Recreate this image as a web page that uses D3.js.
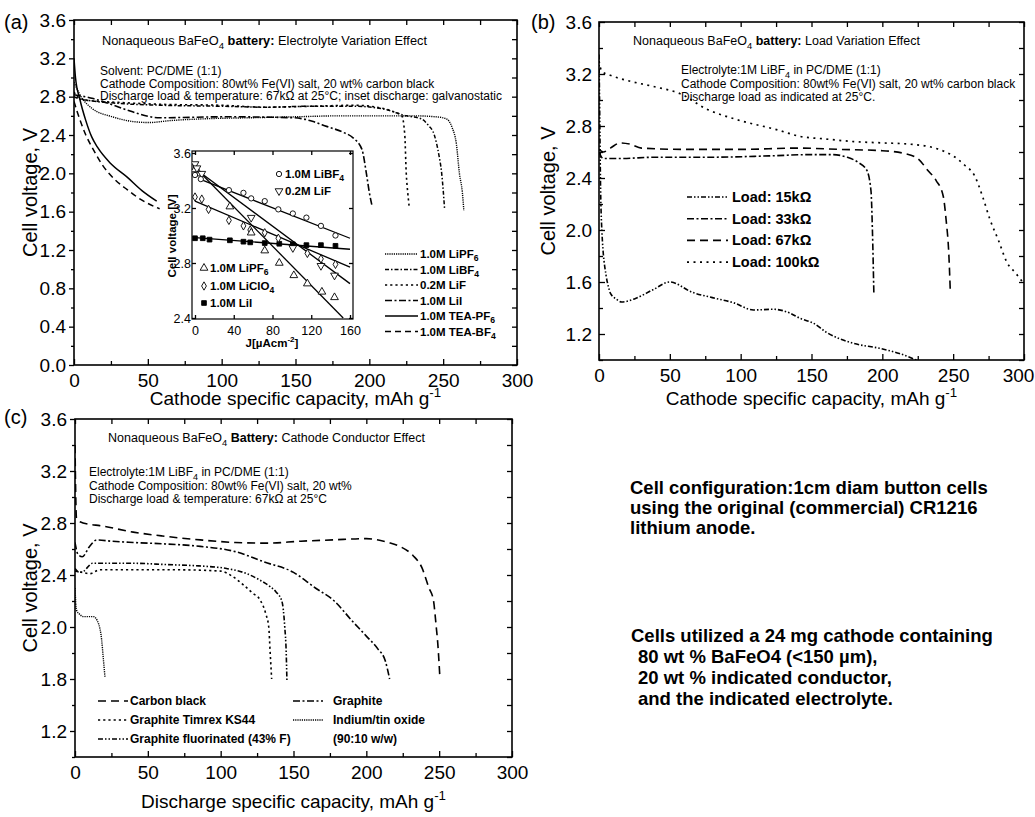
<!DOCTYPE html>
<html><head><meta charset="utf-8">
<script src="https://cdn.jsdelivr.net/npm/d3@7"></script>
<style>
body{margin:0;background:#fff;}
svg{font-family:"Liberation Sans",Arial,Helvetica,sans-serif;}
</style></head><body>
<svg id="fig" width="1035" height="817"></svg>
<script>
// ================= DATA =================
// shared tick values / labels
const capTicks = [0, 50, 100, 150, 200, 250, 300];
const capMinorTicks = [25, 75, 125, 175, 225, 275];
const voltTicksA = [0.0, 0.4, 0.8, 1.2, 1.6, 2.0, 2.4, 2.8, 3.2, 3.6];
const voltMinorA = [0.2, 0.6, 1.0, 1.4, 1.8, 2.2, 2.6, 3.0, 3.4];
const voltTicksBC = [1.2, 1.6, 2.0, 2.4, 2.8, 3.2, 3.6];
const voltMinorBC = [1.0, 1.4, 1.8, 2.2, 2.6, 3.0, 3.4];
const voltLabelsB = ["1.2", "1.6", "2.0", "2.4", "2.8", "3.2", "3.6"];
const voltLabelsC = ["1.2", "1.8", "2.0", "2.4", "2.8", "3.2", "3.6"];
const insetJTicks = [0, 40, 80, 120, 160];
const insetVTicks = [2.4, 2.8, 3.2, 3.6];

// ---- panel (a): electrolyte variation, [capacity mAh/g, voltage V]
const a_LiPF6 = [[0,2.95],[4,2.82],[12,2.68],[26,2.59],[40,2.54],[51,2.53],[65,2.55],[90,2.57],[120,2.58],[150,2.59],[180,2.6],[210,2.6],[230,2.6],[245,2.59],[252,2.57],[256,2.48],[259,2.3],[261,2.0],[263,1.8],[264,1.61]];
const a_LiBF4 = [[0,2.8],[3,2.78],[10,2.76],[30,2.73],[60,2.71],[100,2.7],[130,2.69],[160,2.7],[190,2.7],[210,2.67],[225,2.6],[235,2.57],[240,2.5],[244,2.4],[247,2.2],[249,2.0],[251,1.62]];
const a_LiF   = [[0,2.85],[3,2.79],[10,2.76],[30,2.74],[60,2.72],[100,2.71],[130,2.69],[160,2.7],[190,2.71],[205,2.69],[215,2.65],[222,2.6],[224,2.4],[225,2.0],[226,1.8],[227,1.65]];
const a_LiI   = [[0,2.82],[13,2.78],[25,2.72],[36,2.66],[58,2.58],[103,2.59],[149,2.58],[162,2.54],[171,2.49],[182,2.43],[189,2.37],[195,2.25],[198,2.0],[200,1.8],[202,1.65]];
const a_TEAPF6 = [[0,3.2],[1,3.0],[4,2.77],[8,2.55],[12,2.38],[16,2.27],[25,2.1],[36,1.96],[46,1.82],[56,1.71]];
const a_TEABF4 = [[0,2.75],[2,2.65],[4,2.56],[8,2.4],[13,2.25],[20,2.07],[28,1.93],[36,1.83],[46,1.72],[58,1.63]];
const legendA = [["1.0M LiPF","6"],["1.0M LiBF","4"],["0.2M LiF",""],["1.0M LiI",""],["1.0M TEA-PF","6"],["1.0M TEA-BF","4"]];

// ---- inset of (a): current density J (uA/cm2) vs voltage
const ins_LiBF4_J = [0, 6, 35, 50, 58, 72, 86, 101, 115, 130, 145];
const ins_LiBF4_V = [3.44, 3.41, 3.33, 3.31, 3.27, 3.25, 3.19, 3.16, 3.13, 3.07, 3.00];
const ins_LiF_J = [0, 2, 7, 58, 101, 130, 144];
const ins_LiF_V = [3.52, 3.49, 3.45, 3.13, 2.91, 2.78, 2.71];
const ins_LiPF6_J = [0, 4, 36, 58, 72, 87, 102, 116, 131, 144];
const ins_LiPF6_V = [3.48, 3.45, 3.21, 3.02, 2.89, 2.80, 2.71, 2.65, 2.59, 2.55];
const ins_LiClO4_J = [0, 7, 14, 35, 50, 57, 72, 86, 116, 130, 145];
const ins_LiClO4_V = [3.28, 3.265, 3.19, 3.11, 3.07, 3.04, 3.02, 2.98, 2.87, 2.83, 2.79];
const ins_LiI_J = [0, 8, 15, 36, 50, 57, 72, 87, 101, 115, 130, 145];
const ins_LiI_V = [2.98, 2.98, 2.97, 2.965, 2.955, 2.95, 2.945, 2.94, 2.936, 2.93, 2.93, 2.925];
// fitted lines: [[J0,V0],[J1,V1]]
const fit_LiBF4 = [[5, 3.41], [160, 2.98]];
const fit_LiF = [[5, 3.46], [160, 2.65]];
const fit_LiClO4 = [[0, 3.25], [160, 2.77]];
const fit_LiPF6 = [[5, 3.46], [153, 2.40]];
const fit_LiI = [[0, 2.985], [160, 2.90]];

// ---- panel (b): load variation
const b_15k  = [[0,3.35],[0.5,2.9],[1,2.41],[2,2.0],[5,1.65],[6.5,1.57],[8,1.515],[12,1.47],[16,1.446],[25,1.47],[38,1.54],[50,1.6],[66,1.52],[80,1.48],[95,1.44],[109,1.385],[123,1.39],[135,1.36],[142,1.32],[151,1.285],[161,1.21],[179,1.13],[198,1.09],[212,1.05],[224,1.0]];
const b_33k  = [[0,2.6],[3,2.55],[15,2.55],[40,2.56],[80,2.56],[120,2.57],[150,2.58],[165,2.58],[175,2.56],[183,2.52],[189,2.46],[192,2.3],[193,2.0],[194,1.52]];
const b_67k  = [[0,2.62],[3,2.6],[8,2.63],[15,2.67],[22,2.66],[30,2.63],[60,2.62],[100,2.62],[140,2.63],[170,2.62],[200,2.61],[215,2.59],[225,2.55],[232,2.46],[238,2.38],[243,2.26],[245,2.08],[247,1.8],[248,1.52]];
const b_100k = [[0,3.3],[2,3.22],[8,3.19],[20,3.15],[40,3.1],[57,3.05],[76,2.93],[97,2.85],[126,2.77],[142,2.72],[160,2.7],[180,2.68],[200,2.67],[220,2.66],[240,2.62],[250,2.57],[258,2.5],[265,2.42],[271,2.25],[276,2.08],[282,1.92],[288,1.75],[294,1.67],[299,1.6]];
const legendB = ["Load:  15k\u03A9", "Load:  33k\u03A9", "Load:  67k\u03A9", "Load: 100k\u03A9"];

// ---- panel (c): cathode conductor
const c_carbon = [[0,3.4],[1,2.84],[3.4,2.81],[10,2.79],[17,2.78],[40,2.73],[60,2.7],[86,2.67],[110,2.65],[132,2.645],[155,2.66],[177,2.67],[200,2.68],[215,2.65],[223,2.62],[232,2.55],[238,2.46],[243,2.3],[246,2.21],[248,2.0],[249,1.88],[250.5,1.61]];
const c_graphite = [[0,2.65],[2,2.56],[5,2.54],[10,2.62],[15,2.67],[25,2.66],[40,2.65],[60,2.64],[86,2.62],[110,2.58],[130,2.5],[150,2.42],[165,2.3],[178,2.2],[190,2.05],[200,1.93],[208,1.83],[213,1.74],[216,1.6]];
const c_ks44 = [[0,2.43],[5,2.42],[10,2.41],[17,2.44],[40,2.44],[70,2.44],[100,2.43],[108,2.39],[116,2.32],[122,2.26],[127,2.21],[131,2.1],[133,2.0],[134,1.8],[135,1.6]];
const c_ito = [[0,2.3],[1,2.13],[3,2.1],[6,2.08],[12.6,2.08],[16,2.03],[18.3,1.9],[19.5,1.75],[20.6,1.61]];
const c_fluor = [[0,2.45],[3,2.42],[6,2.43],[12,2.49],[17,2.49],[40,2.49],[63,2.48],[85,2.47],[104,2.45],[118,2.41],[127,2.36],[134,2.31],[138,2.27],[142,2.2],[144,2.0],[145,1.8],[145.5,1.58]];
const legendC = ["Carbon black", "Graphite Timrex KS44", "Graphite fluorinated (43% F)", "Graphite", "Indium/tin oxide", "(90:10 w/w)"];

// ================= DRAWING =================
const svg = d3.select('#fig');
const FONT = '"Liberation Sans",Arial,Helvetica,sans-serif';

function rich(parent, x, y, segs, size, anchor) {
  const t = parent.append('text').attr('x', x).attr('y', y).attr('font-size', size)
    .attr('text-anchor', anchor || 'start').attr('fill', '#000');
  let shifted = false;
  segs.forEach(s => {
    const sp = t.append('tspan').text(s.t);
    if (s.bold) sp.attr('font-weight', 'bold');
    if (s.sub) { sp.attr('dy', size * 0.3).attr('font-size', size * 0.75); shifted = true; }
    else if (s.sup) { sp.attr('dy', -size * 0.4).attr('font-size', size * 0.7); shifted = 'up'; }
    else if (shifted) { sp.attr('dy', shifted === 'up' ? size * 0.4 : -size * 0.3); shifted = false; }
  });
  return t;
}

function styleAxis(s, size) {
  s.select('.domain').remove();
  s.attr('font-size', size).attr('font-family', FONT);
  s.selectAll('line').attr('stroke', '#000').attr('stroke-width', 1.3);
  s.selectAll('text').attr('fill', '#000');
}

function panel(p) {
  const g = svg.append('g');
  const x = d3.scaleLinear().domain(p.xd).range(p.xr);
  const y = d3.scaleLinear().domain(p.yd).range(p.yr);
  const [x0, x1] = p.xr, [yb, yt] = p.yr;
  // bottom axis
  g.append('g').attr('transform', `translate(0,${yb})`)
    .call(d3.axisBottom(x).tickValues(capTicks).tickSize(-6).tickPadding(9).tickFormat(d3.format('d')))
    .call(s => styleAxis(s, 19))
    .call(s => { if (p.lastShift) s.selectAll('.tick:last-of-type text').attr('dx', p.lastShift); });
  g.append('g').attr('transform', `translate(0,${yb})`)
    .call(d3.axisBottom(x).tickValues(capMinorTicks).tickSize(-4).tickFormat(''))
    .call(s => styleAxis(s, 19));
  // top axis
  g.append('g').attr('transform', `translate(0,${yt})`)
    .call(d3.axisTop(x).tickValues(capTicks.concat(capMinorTicks)).tickSize(-5).tickFormat(''))
    .call(s => styleAxis(s, 19));
  // left axis
  const inward = p.leftInward;
  g.append('g').attr('transform', `translate(${x0},0)`)
    .call(d3.axisLeft(y).tickValues(p.yt).tickSize(inward ? -6 : 5).tickPadding(inward ? 7 : 3)
      .tickFormat((d, i) => p.yl[i]))
    .call(s => styleAxis(s, 19));
  g.append('g').attr('transform', `translate(${x0},0)`)
    .call(d3.axisLeft(y).tickValues(p.ym).tickSize(inward ? -4 : 3).tickFormat(''))
    .call(s => styleAxis(s, 19));
  // right axis
  g.append('g').attr('transform', `translate(${x1},0)`)
    .call(d3.axisRight(y).tickValues(p.yt.concat(p.ym)).tickSize(-5).tickFormat(''))
    .call(s => styleAxis(s, 19));
  // frame
  g.append('rect').attr('x', x0).attr('y', yt).attr('width', x1 - x0).attr('height', yb - yt)
    .attr('fill', 'none').attr('stroke', '#000').attr('stroke-width', 1.6);
  // clip
  const cid = 'clip' + p.id;
  svg.append('clipPath').attr('id', cid).append('rect')
    .attr('x', x0).attr('y', yt).attr('width', x1 - x0).attr('height', yb - yt);
  const line = d3.line().x(d => x(d[0])).y(d => y(d[1])).curve(d3.curveMonotoneX);
  const lg = g.append('g').attr('clip-path', `url(#${cid})`);
  p.series.forEach(s => {
    lg.append('path').attr('d', line(s.data)).attr('fill', 'none').attr('stroke', '#000')
      .attr('stroke-width', s.w || 1.5).attr('stroke-dasharray', s.dash || null);
  });
  // axis titles
  rich(g, (x0 + x1) / 2, p.xTitleY, [{t: p.xTitle + ' g'}, {t: '-1', sup: true}], 19, 'middle');
  g.append('text').attr('transform', `translate(${p.yTitleX},${(yt + yb) / 2}) rotate(-90)`)
    .attr('text-anchor', 'middle').attr('dominant-baseline', 'central').attr('font-size', 20)
    .text('Cell voltage, V');
  return {g, x, y};
}

// line styles
const ST = {
  fineDot: '1.2,1', dashDot2: '4,2,1.5,2', dot: '2.2,3', dashDot: '7,2.5,2,2.5', solid: null, dash: '6,4',
  dashDotDot: '5,2,1.5,2,1.5,2', dotWide: '2,4.5', dashLong: '8,5'
};

// ---------- Panel (a) ----------
const A = panel({
  id: 'a', xd: [0, 300], xr: [74, 517], yd: [0, 3.6], yr: [365, 20],
  yt: voltTicksA, ym: voltMinorA, yl: voltTicksA.map(d3.format('.1f')), leftInward: false,
  xTitle: 'Cathode specific capacity, mAh', xTitleY: 405, yTitleX: 30,
  series: [
    {data: a_LiPF6, dash: ST.fineDot, w: 1.4},
    {data: a_LiBF4, dash: ST.dashDot2, w: 1.5},
    {data: a_LiF, dash: ST.dot, w: 1.6},
    {data: a_LiI, dash: ST.dashDot, w: 1.6},
    {data: a_TEAPF6, dash: ST.solid, w: 1.5},
    {data: a_TEABF4, dash: ST.dash, w: 1.5}
  ]
});
svg.append('text').attr('x', 4).attr('y', 29).attr('font-size', 20).text('(a)');
rich(svg, 102, 45, [{t: 'Nonaqueous BaFeO'}, {t: '4', sub: true}, {t: ' battery:', bold: true}, {t: '  Electrolyte Variation Effect'}], 12.8);
svg.append('text').attr('x', 100).attr('y', 75).attr('font-size', 12).text('Solvent: PC/DME (1:1)');
svg.append('text').attr('x', 100).attr('y', 87.5).attr('font-size', 12).text('Cathode Composition: 80wt% Fe(VI) salt, 20 wt% carbon black');
svg.append('text').attr('x', 100).attr('y', 100).attr('font-size', 12).text('Discharge load & temperature: 67k\u03A9 at 25\u00B0C; inset discharge: galvanostatic');
// legend (a)
const legStylesA = [[ST.fineDot, 1.4], [ST.dashDot2, 1.5], [ST.dot, 1.6], [ST.dashDot, 1.6], [ST.solid, 1.5], [ST.dash, 1.5]];
legendA.forEach((lab, i) => {
  const yy = 254 + i * 15.5;
  svg.append('line').attr('x1', 385).attr('x2', 418).attr('y1', yy).attr('y2', yy)
    .attr('stroke', '#000').attr('stroke-width', legStylesA[i][1]).attr('stroke-dasharray', legStylesA[i][0]);
  rich(svg, 420, yy + 4, [{t: lab[0], bold: true}, {t: lab[1], sub: true, bold: true}], 11.5);
});

// ---------- Inset ----------
(function () {
  const g = svg.append('g');
  const xi = d3.scaleLinear().domain([0, 160]).range([195, 350]);
  const yi = d3.scaleLinear().domain([2.4, 3.6]).range([318, 153]);
  g.append('rect').attr('x', 192).attr('y', 151).attr('width', 161).attr('height', 168).attr('fill', '#fff');
  g.append('g').attr('transform', 'translate(0,319)')
    .call(d3.axisBottom(xi).tickValues(insetJTicks).tickSize(-4).tickPadding(7).tickFormat(d3.format('d')))
    .call(s => styleAxis(s, 12.5));
  g.append('g').attr('transform', 'translate(0,151)')
    .call(d3.axisTop(xi).tickValues(insetJTicks).tickSize(-4).tickFormat(''))
    .call(s => styleAxis(s, 12.5));
  g.append('g').attr('transform', 'translate(192,0)')
    .call(d3.axisLeft(yi).tickValues(insetVTicks).tickSize(-4).tickPadding(1).tickFormat(d3.format('.1f')))
    .call(s => styleAxis(s, 12.5));
  g.append('g').attr('transform', 'translate(353,0)')
    .call(d3.axisRight(yi).tickValues(insetVTicks).tickSize(-4).tickFormat(''))
    .call(s => styleAxis(s, 12.5));
  g.append('rect').attr('x', 192).attr('y', 151).attr('width', 161).attr('height', 168)
    .attr('fill', 'none').attr('stroke', '#000').attr('stroke-width', 1.2);
  svg.append('clipPath').attr('id', 'clipIns').append('rect').attr('x', 192).attr('y', 151).attr('width', 161).attr('height', 168);
  const lg = g.append('g').attr('clip-path', 'url(#clipIns)');
  [fit_LiBF4, fit_LiF, fit_LiClO4, fit_LiPF6, fit_LiI].forEach(f => {
    lg.append('line').attr('x1', xi(f[0][0])).attr('y1', yi(f[0][1])).attr('x2', xi(f[1][0])).attr('y2', yi(f[1][1]))
      .attr('stroke', '#000').attr('stroke-width', 1.3);
  });
  const sym = {
    circle: d3.symbol().type(d3.symbolCircle).size(22),
    tdown: d3.symbol().type(d3.symbolTriangle).size(26),
    tup: d3.symbol().type(d3.symbolTriangle).size(26),
    diamond: d3.symbol().type(d3.symbolDiamond).size(20),
    square: d3.symbol().type(d3.symbolSquare).size(22)
  };
  function pts(J, V, key, filled, rot) {
    J.forEach((j, i) => {
      lg.append('path').attr('d', sym[key]()).attr('transform', `translate(${xi(j)},${yi(V[i])}) rotate(${rot || 0})`)
        .attr('fill', filled ? '#000' : '#fff').attr('stroke', '#000').attr('stroke-width', 0.9);
    });
  }
  pts(ins_LiI_J, ins_LiI_V, 'square', true);
  pts(ins_LiClO4_J, ins_LiClO4_V, 'diamond', false);
  pts(ins_LiPF6_J, ins_LiPF6_V, 'tup', false);
  pts(ins_LiF_J, ins_LiF_V, 'tdown', false, 180);
  pts(ins_LiBF4_J, ins_LiBF4_V, 'circle', false);
  // inset legend
  const legs = [
    {x: 279, y: 174, key: 'circle', rot: 0, fill: false, lab: [['1.0M LiBF', false], ['4', true]]},
    {x: 279, y: 191, key: 'tdown', rot: 180, fill: false, lab: [['0.2M LiF', false]]},
    {x: 204, y: 268, key: 'tup', rot: 0, fill: false, lab: [['1.0M LiPF', false], ['6', true]]},
    {x: 204, y: 286, key: 'diamond', rot: 0, fill: false, lab: [['1.0M LiClO', false], ['4', true]]},
    {x: 204, y: 303, key: 'square', rot: 0, fill: true, lab: [['1.0M LiI', false]]}
  ];
  legs.forEach(l => {
    g.append('path').attr('d', sym[l.key]()).attr('transform', `translate(${l.x},${l.y}) rotate(${l.rot})`)
      .attr('fill', l.fill ? '#000' : '#fff').attr('stroke', '#000').attr('stroke-width', 0.9);
    rich(g, l.x + 6, l.y + 4, l.lab.map(s => ({t: s[0], sub: s[1], bold: true})), 11.5);
  });
  rich(g, 272, 347, [{t: 'J[\u00B5Acm', bold: true}, {t: '-2', sup: true, bold: true}, {t: ']', bold: true}], 11.5, 'middle');
  g.append('text').attr('transform', 'translate(172,236) rotate(-90)').attr('text-anchor', 'middle')
    .attr('dominant-baseline', 'central').attr('font-size', 11.5).attr('font-weight', 'bold').text('Cell voltage [V]');
})();

// ---------- Panel (b) ----------
const B = panel({
  id: 'b', xd: [0, 300], xr: [599, 1024], yd: [1.0, 3.6], yr: [360, 22],
  yt: voltTicksBC, ym: voltMinorBC, yl: voltLabelsB, leftInward: true, lastShift: -6,
  xTitle: 'Cathode specific capacity, mAh', xTitleY: 405, yTitleX: 548,
  series: [
    {data: b_15k, dash: ST.dashDotDot, w: 1.6},
    {data: b_33k, dash: ST.dashDot, w: 1.6},
    {data: b_67k, dash: ST.dashLong, w: 1.6},
    {data: b_100k, dash: ST.dotWide, w: 1.7}
  ]
});
svg.append('text').attr('x', 531).attr('y', 29).attr('font-size', 20).text('(b)');
rich(svg, 633, 45, [{t: 'Nonaqueous BaFeO'}, {t: '4', sub: true}, {t: ' battery:', bold: true}, {t: '  Load Variation Effect'}], 12.5);
rich(svg, 681, 74, [{t: 'Electrolyte:1M  LiBF'}, {t: '4', sub: true}, {t: '  in PC/DME (1:1)'}], 12);
svg.append('text').attr('x', 681).attr('y', 87.5).attr('font-size', 12).text('Cathode Composition: 80wt% Fe(VI) salt, 20 wt% carbon black');
svg.append('text').attr('x', 681).attr('y', 100.5).attr('font-size', 12).text('Discharge load as indicated at 25\u00B0C.');
const legStylesB = [[ST.dashDotDot, 1.6], [ST.dashDot, 1.6], [ST.dashLong, 1.6], [ST.dotWide, 1.7]];
legendB.forEach((lab, i) => {
  const yy = 197 + i * 21.7;
  svg.append('line').attr('x1', 687).attr('x2', 728).attr('y1', yy).attr('y2', yy)
    .attr('stroke', '#000').attr('stroke-width', legStylesB[i][1]).attr('stroke-dasharray', legStylesB[i][0]);
  svg.append('text').attr('x', 732).attr('y', yy + 5).attr('font-size', 14.5).attr('font-weight', 'bold').text(lab);
});

// ---------- Panel (c) ----------
const C = panel({
  id: 'c', xd: [0, 300], xr: [75, 512], yd: [1.0, 3.6], yr: [757, 419],
  yt: voltTicksBC, ym: voltMinorBC, yl: voltLabelsC, leftInward: false,
  xTitle: 'Discharge specific capacity, mAh', xTitleY: 808, yTitleX: 30,
  series: [
    {data: c_carbon, dash: ST.dashLong, w: 1.6},
    {data: c_graphite, dash: ST.dashDot, w: 1.6},
    {data: c_ks44, dash: ST.dot, w: 1.6},
    {data: c_ito, dash: ST.fineDot, w: 1.4},
    {data: c_fluor, dash: ST.dashDotDot, w: 1.6}
  ]
});
svg.append('text').attr('x', 4).attr('y', 424).attr('font-size', 20).text('(c)');
rich(svg, 108, 442, [{t: 'Nonaqueous BaFeO'}, {t: '4', sub: true}, {t: ' Battery:', bold: true}, {t: '  Cathode Conductor Effect'}], 12.5);
rich(svg, 89, 476, [{t: 'Electrolyte:1M  LiBF'}, {t: '4', sub: true}, {t: '  in PC/DME (1:1)'}], 12);
svg.append('text').attr('x', 89).attr('y', 489.5).attr('font-size', 12).text('Cathode Composition: 80wt% Fe(VI) salt, 20 wt%');
svg.append('text').attr('x', 89).attr('y', 502.5).attr('font-size', 12).text('Discharge load & temperature: 67k\u03A9 at 25\u00B0C');
const legStylesC = [[ST.dashLong, 1.6], [ST.dot, 1.6], [ST.dashDotDot, 1.6], [ST.dashDot, 1.6], [ST.fineDot, 1.4], [null, 0]];
legendC.forEach((lab, i) => {
  const col = i < 3 ? 0 : 1;
  const row = i % 3;
  const yy = 701 + row * 19;
  const lx = col === 0 ? 98 : 293;
  if (legStylesC[i][1] > 0) {
    svg.append('line').attr('x1', lx).attr('x2', lx + 30).attr('y1', yy).attr('y2', yy)
      .attr('stroke', '#000').attr('stroke-width', legStylesC[i][1]).attr('stroke-dasharray', legStylesC[i][0]);
  }
  svg.append('text').attr('x', lx + (col === 0 ? 32 : 40)).attr('y', yy + 4).attr('font-size', 12)
    .attr('font-weight', 'bold').text(lab);
});

// ---------- right-hand notes ----------
const notes1 = ['Cell configuration:1cm diam button cells', 'using the original (commercial) CR1216', 'lithium anode.'];
const notes2 = ['Cells utilized a 24 mg cathode containing', '80 wt % BaFeO4 (<150 \u00B5m),', '20 wt % indicated conductor,', 'and the indicated electrolyte.'];
notes1.forEach((t, i) => svg.append('text').attr('x', 630).attr('y', 494 + i * 20).attr('font-size', 18.5)
  .attr('font-weight', 'bold').text(t));
notes2.forEach((t, i) => svg.append('text').attr('x', i === 0 ? 631 : 638).attr('y', 642 + i * 21).attr('font-size', 18.5)
  .attr('font-weight', 'bold').text(t));
</script>
</body></html>
